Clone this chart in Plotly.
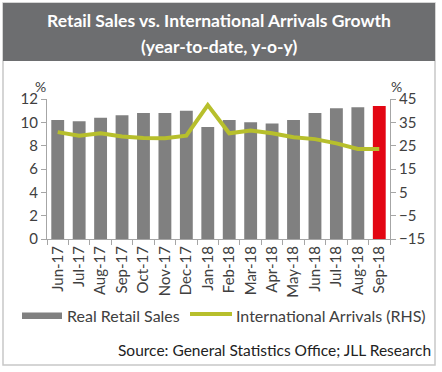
import plotly.graph_objects as go

months = ["Jun-17", "Jul-17", "Aug-17", "Sep-17", "Oct-17", "Nov-17", "Dec-17", "Jan-18",
          "Feb-18", "Mar-18", "Apr-18", "May-18", "Jun-18", "Jul-18", "Aug-18", "Sep-18"]
retail_sales = [10.2, 10.1, 10.4, 10.6, 10.8, 10.8, 11.0, 9.6, 10.2, 10.0, 9.9, 10.2, 10.8, 11.2, 11.3, 11.4]
intl_arrivals = [30.8, 29.3, 30.3, 28.9, 28.3, 28.2, 29.3, 42.4, 30.3, 31.5, 30.3, 28.6, 27.8, 26.0, 23.6, 23.6]
left_ticks = [0, 2, 4, 6, 8, 10, 12]
right_ticks = [-15, -5, 5, 15, 25, 35, 45]

bar_colors = ["#808080"] * (len(months) - 1) + ["#e30613"]
TXT = "#404040"
FONT = "Lato, 'Open Sans', sans-serif"

W, H = 442, 372
L, R, T, B = 47, 52, 99, 133
PW, PH = W - L - R, H - T - B


def px(x):
    return (x - L) / PW


def py(y):
    return (H - B - y) / PH


fig = go.Figure()
fig.add_trace(go.Bar(x=months, y=retail_sales, marker=dict(color=bar_colors, line=dict(width=0)),
                     width=0.6, name="Real Retail Sales", showlegend=False))
fig.add_trace(go.Scatter(x=months, y=intl_arrivals, mode="lines", yaxis="y2",
                         line=dict(color="#b7bf2c", width=4), name="International Arrivals (RHS)",
                         showlegend=False))

fig.update_layout(
    width=W, height=H,
    margin=dict(l=L, r=R, t=T, b=B, autoexpand=False),
    paper_bgcolor="white", plot_bgcolor="white",
    font=dict(family=FONT, color=TXT),
    xaxis=dict(showgrid=False, showline=True, linecolor="#a6a6a6", ticks="outside",
               tickcolor="#a6a6a6", ticklen=5, tickson="boundaries", tickangle=-90,
               tickfont=dict(size=15, color=TXT), range=[-0.5, len(months) - 0.5]),
    yaxis=dict(range=[0, 12], tickvals=left_ticks, showgrid=False, showline=True,
               linecolor="#a6a6a6", ticks="outside", tickcolor="#a6a6a6", ticklen=5,
               tickfont=dict(size=15, color=TXT), zeroline=False),
    yaxis2=dict(range=[-15, 45], tickvals=right_ticks, overlaying="y", side="right",
                showgrid=False, showline=True, linecolor="#a6a6a6", ticks="outside",
                tickcolor="#a6a6a6", ticklen=5, tickfont=dict(size=15, color=TXT), zeroline=False),
    shapes=[
        dict(type="rect", xref="paper", yref="paper", x0=px(3), x1=px(435),
             y0=py(365), y1=py(3), line=dict(color="#c8c8c8", width=1.5),
             fillcolor="rgba(0,0,0,0)", layer="below"),
        dict(type="rect", xref="paper", yref="paper", x0=px(3), x1=px(435),
             y0=py(61), y1=py(3), line=dict(width=0),
             fillcolor="#6d6e70", layer="below"),
        dict(type="rect", xref="paper", yref="paper", x0=px(22), x1=px(62),
             y0=py(319), y1=py(312.5), line=dict(width=0), fillcolor="#808080"),
        dict(type="line", xref="paper", yref="paper", x0=px(190), x1=px(232),
             y0=py(314), y1=py(314), line=dict(color="#b7bf2c", width=4)),
    ],
    annotations=[
        dict(text="<b>Retail Sales vs. International Arrivals Growth</b>",
             xref="paper", yref="paper", x=px(219), y=py(20), showarrow=False,
             font=dict(size=17.5, color="white", family=FONT), xanchor="center", yanchor="middle"),
        dict(text="<b>(year-to-date, y-o-y)</b>",
             xref="paper", yref="paper", x=px(219), y=py(46), showarrow=False,
             font=dict(size=17.5, color="white", family=FONT), xanchor="center", yanchor="middle"),
        dict(text="%", xref="paper", yref="paper", x=px(40), y=py(86),
             showarrow=False, font=dict(size=14, color=TXT), xanchor="center", yanchor="middle"),
        dict(text="%", xref="paper", yref="paper", x=px(396), y=py(86),
             showarrow=False, font=dict(size=14, color=TXT), xanchor="center", yanchor="middle"),
        dict(text="Real Retail Sales", xref="paper", yref="paper", x=px(65),
             y=py(315), showarrow=False, font=dict(size=16, color=TXT),
             xanchor="left", yanchor="middle"),
        dict(text="International Arrivals (RHS)", xref="paper", yref="paper", x=px(234),
             y=py(315), showarrow=False, font=dict(size=16, color=TXT),
             xanchor="left", yanchor="middle"),
        dict(text="Source: General Statistics Office; JLL Research", xref="paper", yref="paper",
             x=px(433), y=py(350), showarrow=False,
             font=dict(size=15.5, color="#222222"), xanchor="right", yanchor="middle"),
    ],
)

fig.write_html("out.html", config={"displayModeBar": False},
               post_script="document.body.style.margin='0';")
